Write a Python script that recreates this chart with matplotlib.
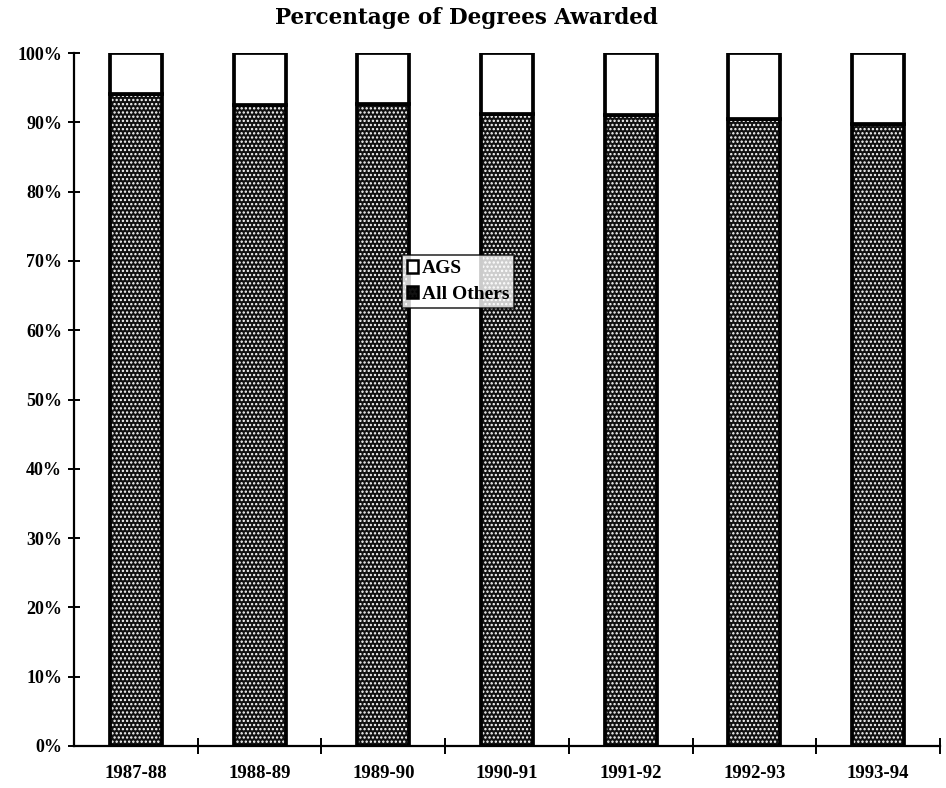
import numpy as np
import matplotlib
matplotlib.use('Agg')
import matplotlib.pyplot as plt
import matplotlib.ticker as mticker
from matplotlib.patches import Patch
from matplotlib.font_manager import FontProperties

# ── Data ────────────────────────────────────────────────────────────
years = ['1987-88', '1988-89', '1989-90', '1990-91', '1991-92', '1992-93', '1993-94']
all_others = [94.1, 92.5, 92.6, 91.2, 91.0, 90.5, 89.7]   # % of degrees
ags = [100 - v for v in all_others]
y_ticks = [0, 10, 20, 30, 40, 50, 60, 70, 80, 90, 100]

plt.rcParams['font.family'] = 'serif'
plt.rcParams['font.serif'] = ['Liberation Serif']
plt.rcParams['hatch.linewidth'] = 1.1

tick_font_y = FontProperties(family='Liberation Serif', weight='bold', size=13)
tick_font_x = FontProperties(family='Liberation Serif', weight='bold', size=13.5)
leg_font = FontProperties(family='Liberation Serif', weight='bold', size=14)

fig = plt.figure(figsize=(9.46, 7.88), dpi=100)
ax = fig.add_axes([0.0782, 0.0533, 0.9154, 0.8794])

x = np.arange(len(years))
w = 0.42

# stippled lower part: dark fill with white dot hatch, then black outline
ax.bar(x, all_others, w, color='#111111', edgecolor='white', hatch='....',
       linewidth=0, zorder=2)
ax.bar(x, all_others, w, fill=False, edgecolor='black', linewidth=2.7, zorder=3)
ax.bar(x, ags, w, bottom=all_others, color='white', edgecolor='black',
       linewidth=2.7, zorder=3)

# legend
h_ags = Patch(facecolor='white', edgecolor='black', linewidth=1.8, label='AGS')
h_oth = Patch(facecolor='#111111', edgecolor='black', hatch='....',
              linewidth=1.8, label='All Others')
leg = ax.legend(handles=[h_ags, h_oth], loc='upper left',
                bbox_to_anchor=(0.379, 0.708), frameon=True, fancybox=False,
                prop=leg_font, handlelength=0.55, handleheight=0.6,
                handletextpad=0.2, borderpad=0.25, labelspacing=0.45,
                borderaxespad=0)
leg.get_frame().set_edgecolor('black')
leg.get_frame().set_linewidth(1.2)
leg.set_zorder(5)

ax.set_xlim(-0.5, 6.5)
ax.set_ylim(0, 100)
ax.set_yticks(y_ticks)
ax.yaxis.set_major_formatter(mticker.FuncFormatter(lambda v, _: f'{v:.0f}%'))
ax.set_xticks(x)
ax.set_xticklabels(years)
ax.set_xticks(np.arange(0.5, 7, 1), minor=True)
ax.tick_params(axis='x', which='major', length=0, pad=14)
ax.tick_params(axis='x', which='minor', direction='inout', length=11, width=1.4)
ax.tick_params(axis='y', direction='inout', length=9, width=1.4, pad=4)
for lbl in ax.get_xticklabels():
    lbl.set_fontproperties(tick_font_x)
for lbl in ax.get_yticklabels():
    lbl.set_fontproperties(tick_font_y)

ax.spines['top'].set_visible(False)
ax.spines['right'].set_visible(False)
ax.spines['left'].set_linewidth(1.6)
ax.spines['bottom'].set_linewidth(1.6)

fig.text(0.4926, 0.977, 'Percentage of Degrees Awarded', ha='center', va='center',
         fontsize=15.5, fontweight='bold', family='DejaVu Serif')

fig.savefig('out.png', dpi=100)
